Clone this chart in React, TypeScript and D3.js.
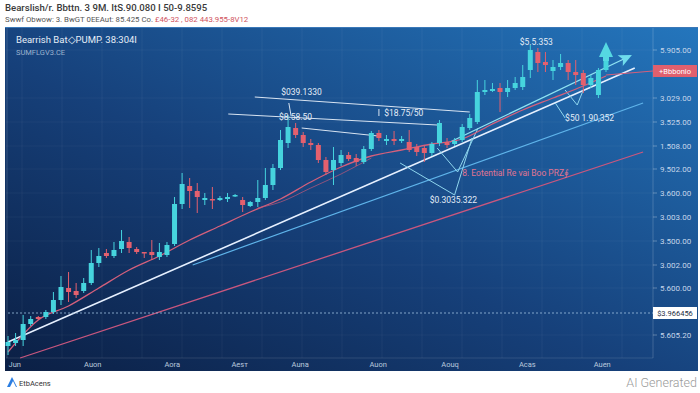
import React from "react";
import * as d3 from "d3";

const W = 700;
const H = 393;

// candles (price units), left to right
const opens = [54, 57, 60, 76, 83, 83, 88, 100, 112, 109, 109, 117, 137, 147, 144, 151, 158, 151, 148, 148, 143, 145, 156, 196, 214, 209, 200, 201, 200, 201, 204, 200, 194, 198, 202, 215, 232, 257, 272, 265, 257, 255, 240, 230, 237, 245, 242, 238, 251, 267, 259, 261, 259, 258, 253, 252, 247, 257, 258, 256, 260, 272, 278, 308, 309, 312, 308, 312, 313, 330, 348, 338, 329, 333, 337, 328, 327, 315, 305, 330];
const closes = [58, 60, 76, 81, 81, 88, 100, 113, 108, 105, 117, 137, 144, 144, 150, 159, 152, 148, 147, 145, 148, 155, 196, 216, 209, 203, 202, 200, 202, 203, 205, 195, 198, 202, 215, 232, 260, 273, 265, 257, 255, 240, 228, 240, 245, 241, 238, 251, 267, 262, 261, 259, 261, 250, 248, 247, 256, 277, 255, 259, 273, 282, 308, 310, 311, 308, 312, 317, 323, 350, 337, 335, 333, 337, 328, 325, 315, 322, 330, 342];
const highs = [64, 67, 85, 84, 84, 90, 108, 124, 128, 117, 122, 150, 152, 151, 158, 170, 163, 153, 148, 160, 157, 158, 203, 227, 222, 217, 207, 213, 204, 207, 206, 203, 199, 220, 232, 236, 270, 285, 277, 268, 261, 257, 243, 253, 250, 248, 246, 254, 269, 270, 265, 269, 264, 270, 256, 254, 258, 280, 262, 262, 276, 286, 320, 320, 317, 317, 320, 323, 335, 355, 352, 348, 340, 346, 340, 340, 330, 325, 332, 345];
const lows = [45, 54, 54, 74, 80, 81, 86, 95, 98, 102, 107, 115, 133, 142, 142, 147, 147, 146, 142, 140, 140, 143, 154, 191, 192, 187, 195, 191, 199, 198, 203, 188, 193, 193, 200, 210, 230, 252, 262, 253, 250, 237, 225, 215, 234, 239, 234, 236, 249, 259, 255, 255, 257, 248, 244, 238, 244, 254, 252, 254, 258, 270, 276, 305, 308, 288, 303, 310, 310, 322, 328, 328, 320, 330, 320, 315, 307, 312, 302, 328];

// moving averages
const maIdx = [0, 4, 8, 12, 16, 20, 24, 28, 32, 36, 40, 44, 48, 52, 56, 60, 64, 68, 72, 76, 79];
const maVal = [48, 80, 94, 112, 130, 144, 160, 174, 188, 201, 218, 233, 244, 250, 256, 261, 276, 290, 302, 314, 324];
const ma2Idx = [33, 36, 40, 44, 48];
const ma2Val = [192, 198, 212, 226, 242];

const yTickValues = [350, 302, 278, 254, 231, 207, 183, 159, 135, 112, 65];
const yTickLabels = ["5.905.00", "3.029.00", "3.525.00", "1.508.00", "9.502.00", "3.600.00", "3.003.00", "3.500.00", "3.002.00", "5.600.00", "5.605.20"];
const xTickIdx = [0.9, 11.2, 21.7, 30.6, 38.6, 48.9, 58.4, 68.6, 78.5];
const xTickLabels = ["Jun", "Auon", "Aora", "Aesт", "Auna", "Auon", "Aouq", "Acas", "Auen"];

const lastTag = { value: 329, label: "+Bbbonio" };
const supportTag = { value: 87, label: "$3.966456" };

const UP = "#46d4de";
const DOWN = "#e4606e";

export default function App() {
  const x = d3.scaleLinear().domain([0, 79]).range([8, 606]);
  const y = d3.scaleLinear().domain([40, 372]).range([360, 28]);
  const axisX = 653;
  const bodyW = 5;

  const line = d3
    .line<[number, number]>()
    .x((d) => x(d[0]))
    .y((d) => y(d[1]));
  const smooth = d3
    .line<[number, number]>()
    .x((d) => x(d[0]))
    .y((d) => y(d[1]))
    .curve(d3.curveMonotoneX);

  const ma = maIdx.map((i, k) => [i, maVal[k]] as [number, number]);
  const ma2 = ma2Idx.map((i, k) => [i, ma2Val[k]] as [number, number]);

  const seg = (a: [number, number], b: [number, number]) => line([a, b]) || "";

  // arrowhead for the channel line
  const aStart: [number, number] = [58.4, 258];
  const aEnd: [number, number] = [81.9, 343];
  const ax = x(aEnd[0]) + 4, ay = y(aEnd[1]) - 2;
  const ang = Math.atan2(y(aEnd[1]) - y(aStart[1]), x(aEnd[0]) - x(aStart[0]));

  const gridX = d3.range(22, axisX, 40);

  return (
    <svg width={W} height={H} style={{ position: "absolute", left: 0, top: 0, background: "#fff" }} fontFamily="Roboto, 'Liberation Sans', sans-serif">
      <defs>
        <linearGradient id="bg" x1="0" y1="1" x2="1" y2="0">
          <stop offset="0" stopColor="#0b1f44" />
          <stop offset="0.45" stopColor="#16407a" />
          <stop offset="1" stopColor="#2476bd" />
        </linearGradient>
      </defs>

      {/* header */}
      <text x={5} y={11} fontSize={9.6} fontWeight={500} fill="#3a3a3a">Bearslish/r. Bbttn. 3 9M. ItS.90.080 I 50-9.8595</text>
      <text x={5} y={22} fontSize={7.8} fill="#555">
        Swwf Obwow: 3. BwGT 0EEAut: 85.425 Co. <tspan fill="#d0535e">£46-32 , 082 443.955-8V12</tspan>
      </text>

      {/* panel */}
      <rect x={5} y={27} width={693} height={344} fill="url(#bg)" />
      <line x1={5} x2={698} y1={27.5} y2={27.5} stroke="#3a78b8" />
      {gridX.map((gx) => (
        <line key={gx} x1={gx} x2={gx} y1={28} y2={358} stroke="#ffffff" strokeOpacity={0.05} />
      ))}
      {yTickValues.map((v) => (
        <line key={v} x1={6} x2={axisX} y1={y(v)} y2={y(v)} stroke="#ffffff" strokeOpacity={0.04} />
      ))}
      <line x1={axisX} x2={axisX} y1={28} y2={358} stroke="#ffffff" strokeOpacity={0.18} />
      <line x1={6} x2={axisX} y1={358} y2={358} stroke="#ffffff" strokeOpacity={0.12} />
      <line x1={7} x2={7} y1={28} y2={358} stroke="#ffffff" strokeOpacity={0.15} />

      <text x={16} y={43} fontSize={9.5} fill="#e6eef8">Bearrish Bat◇PUMP. 38:304I</text>
      <text x={16} y={55} fontSize={7.5} fill="#9cb3cf">SUMFLGV3.CE</text>

      {/* trend lines */}
      <path d={seg([1.6, 42], [83.9, 248])} stroke="#c9577e" strokeWidth={1.3} fill="none" />
      <path d={seg([24.4, 135], [83.9, 297])} stroke="#5fb4ea" strokeWidth={1.2} fill="none" />
      <path d={seg([0, 58], [82.8, 332])} stroke="#e6f0ff" strokeWidth={1.6} fill="none" />
      <path d={seg(aStart, aEnd)} stroke="#8fe3f2" strokeWidth={1.3} fill="none" />
      <polygon
        points="0,0 -13,-6 -10,0 -13,6"
        transform={`translate(${ax},${ay}) rotate(${(ang * 180) / Math.PI})`}
        fill="#6fdcec"
      />

      {/* horizontal annotation lines */}
      <path d={seg([32.6, 303], [61, 288])} stroke="#d8e4f2" strokeWidth={1} fill="none" />
      <path d={seg([29.1, 286], [56.7, 275])} stroke="#d8e4f2" strokeWidth={1} fill="none" />
      <path d={seg([38.8, 272], [48.9, 264])} stroke="#d8e4f2" strokeWidth={1} fill="none" />
      <path d={seg([37.1, 297], [37.4, 284])} stroke="#d8e4f2" strokeWidth={1} fill="none" />
      <path d={seg([49, 291], [49, 284])} stroke="#d8e4f2" strokeWidth={1} fill="none" />

      {/* pattern lines */}
      <g stroke="#8fd6ee" strokeWidth={1} fill="none">
        <path d={line([[51.8, 237], [59.0, 205], [61.3, 262]]) || ""} />
        <path d={line([[56.7, 252], [59.4, 228], [62.1, 272]]) || ""} />
        <path d={line([[73.6, 310], [75.2, 295], [76.0, 310]]) || ""} />
        <path d={seg([72.3, 297], [73.6, 282])} />
      </g>

      {/* moving averages */}
      <path d={smooth(ma) || ""} stroke="#d4607c" strokeWidth={1.3} fill="none" />
      <path d={smooth(ma2) || ""} stroke="#c0587a" strokeWidth={1} strokeOpacity={0.7} fill="none" />
      <path d={seg([79, 325], [85.2, 329])} stroke="#d4607c" strokeWidth={1} fill="none" />

      {/* support dotted */}
      <line x1={8} x2={axisX} y1={y(supportTag.value)} y2={y(supportTag.value)} stroke="#9fc0e0" strokeDasharray="2,2" strokeWidth={0.8} />

      {/* candles */}
      {opens.map((o, i) => {
        const c = closes[i];
        const up = c >= o;
        const col = up ? UP : DOWN;
        const top = y(Math.max(o, c));
        const bot = y(Math.min(o, c));
        return (
          <g key={i}>
            <line x1={x(i)} x2={x(i)} y1={y(highs[i])} y2={y(lows[i])} stroke={col} strokeWidth={1} />
            <rect x={x(i) - bodyW / 2} y={top} width={bodyW} height={Math.max(1.5, bot - top)} fill={col} />
          </g>
        );
      })}

      {/* up arrow */}
      <polygon
        points={`${x(79)},${y(358)} ${x(79) - 7},${y(343)} ${x(79) + 7},${y(343)}`}
        fill="#55d8e2"
      />
      <rect x={x(79) - 3} y={y(343)} width={6} height={y(339) - y(343)} fill="#55d8e2" />

      {/* annotation texts */}
      <g fontSize={8.5} fill="#e4edf8">
        <text x={x(36.1)} y={y(305)}>$039.1330</text>
        <text x={x(35.8)} y={y(280)}>$8.58.50</text>
        <text x={x(49.7)} y={y(284)}>$18.75/50</text>
        <text x={x(67.6)} y={y(355)}>$5.5.353</text>
        <text x={x(73.6)} y={y(279)}>$50 1.90,352</text>
        <text x={x(55.7)} y={y(197)}>$0.3035.322</text>
      </g>
      <text x={x(60)} y={y(224)} fontSize={8.5} fill="#e07592">8. Eotential Re vai Boo PRZ∮</text>

      {/* y axis */}
      {yTickValues.map((v, k) => (
        <g key={v}>
          <line x1={axisX} x2={axisX + 4} y1={y(v)} y2={y(v)} stroke="#ffffff" strokeOpacity={0.3} />
          <text x={660} y={y(v) + 3} fontSize={8} fill="#c6d6ea">{yTickLabels[k]}</text>
        </g>
      ))}
      <rect x={axisX} y={y(lastTag.value) - 6} width={44} height={12} fill="#e0606e" />
      <text x={axisX + 22} y={y(lastTag.value) + 3} fontSize={7.5} fill="#fff" textAnchor="middle">{lastTag.label}</text>
      <rect x={axisX} y={y(supportTag.value) - 6} width={44} height={12} fill="#ffffff" />
      <text x={axisX + 22} y={y(supportTag.value) + 3} fontSize={7.5} fill="#1d2d44" textAnchor="middle">{supportTag.label}</text>

      {/* x axis */}
      {xTickIdx.map((i, k) => (
        <text key={k} x={x(i)} y={367} fontSize={7.5} fill="#b9c9dd" textAnchor="middle">{xTickLabels[k]}</text>
      ))}

      {/* footer */}
      <path d="M7,387 L12,377 L17,387 Z" fill="#2a7de1" />
      <path d="M10,387 L13,381 L16,387 Z" fill="#ffffff" />
      <text x={19} y={386} fontSize={7.5} fill="#333">EtbAcens</text>
      <text x={697} y={387} fontSize={12.5} fill="#9a9a9a" textAnchor="end" fontWeight={300}>AI Generated</text>
    </svg>
  );
}
